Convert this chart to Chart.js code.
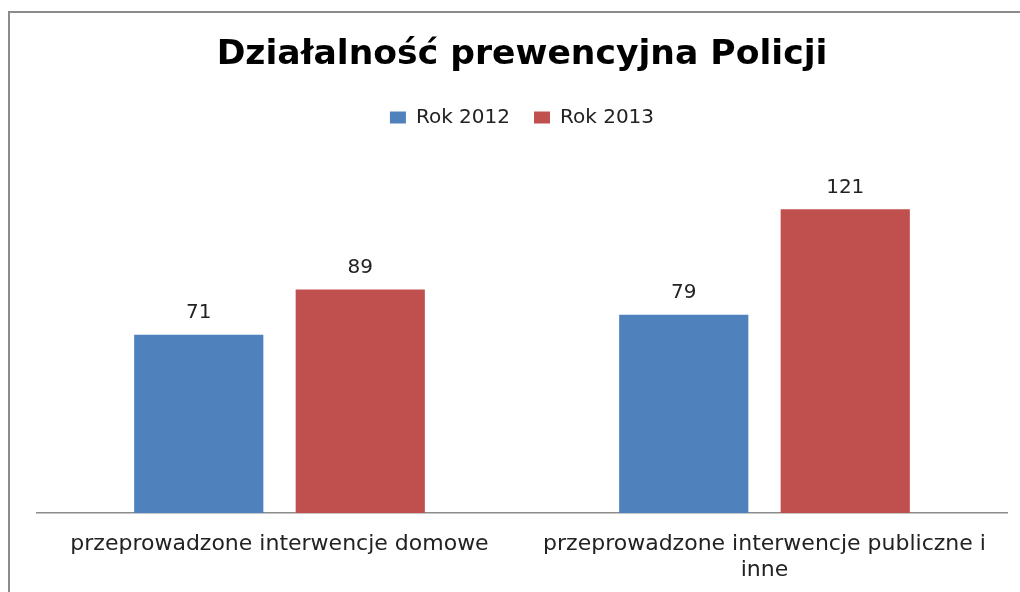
<!DOCTYPE html>
<html>
<head>
<meta charset="utf-8">
<script src="https://cdn.jsdelivr.net/npm/chart.js@4/dist/chart.umd.min.js"></script>
<style>
  html, body { margin: 0; padding: 0; background: #fff; overflow: hidden; }
  #frame { position: absolute; left: 8px; top: 11px; width: 1100px; height: 700px; border: 2px solid #8c8c8c; }
  #wrap { position: absolute; left: 0; top: 0; width: 1020px; height: 592px; }
</style>
</head>
<body>
<div id="frame"></div>
<div id="wrap"><canvas id="chart-prewencja"></canvas></div>
<script>
// Dane
let categories = ['przeprowadzone interwencje domowe', ['przeprowadzone interwencje publiczne i', 'inne']];
let seriesNames = ['Rok 2012', 'Rok 2013'];
let values2012 = [71, 79];
let values2013 = [89, 121];
let colors = ['#4F81BD', '#C0504D'];

// etykiety nad słupkami
const valueLabels = {
    id: 'valueLabels',
    afterDatasetsDraw(chart) {
        const ctx = chart.ctx;
        ctx.save();
        ctx.font = '20px "DejaVu Sans"';
        ctx.fillStyle = '#222';
        ctx.textAlign = 'center';
        ctx.textBaseline = 'bottom';
        chart.data.datasets.forEach((ds, i) => {
            chart.getDatasetMeta(i).data.forEach((bar, j) => {
                ctx.fillText(ds.data[j], bar.x, bar.y - 12);
            });
        });
        ctx.restore();
    }
};

var ctxPrew = document.getElementById('chart-prewencja').getContext('2d');

let chartPrew = new Chart(ctxPrew, {
    type: 'bar',
    data: {
        labels: categories,
        datasets: [{
            label: seriesNames[0],
            data: values2012,
            backgroundColor: colors[0]
        }, {
            label: seriesNames[1],
            data: values2013,
            backgroundColor: colors[1]
        }]
    },
    plugins: [valueLabels],
    options: {
        responsive: true,
        maintainAspectRatio: false,
        animation: false,
        categoryPercentage: 0.666,
        barPercentage: 0.8,
        layout: { padding: { left: 37, right: 13, top: 0, bottom: 0 } },
        plugins: {
            title: {
                display: true,
                text: 'Działalność prewencyjna Policji',
                color: '#000',
                font: { family: 'DejaVu Sans', size: 34.6, weight: 'bold' },
                padding: { top: 34, bottom: 8 }
            },
            legend: {
                labels: {
                    color: '#222',
                    font: { family: 'DejaVu Sans', size: 20 },
                    boxWidth: 16,
                    boxHeight: 12,
                    padding: 24
                }
            },
            tooltip: { enabled: false }
        },
        scales: {
            x: {
                grid: { display: false, drawTicks: false },
                border: { color: '#8c8c8c', width: 1.5 },
                ticks: {
                    color: '#222',
                    font: { family: 'DejaVu Sans', size: 22, lineHeight: 1.2 },
                    padding: 18,
                    maxRotation: 0
                },
                afterFit(scale) { scale.height = 79; }
            },
            y: {
                display: false,
                min: 0,
                max: 149.6
            }
        }
    }
});
</script>
</body>
</html>
